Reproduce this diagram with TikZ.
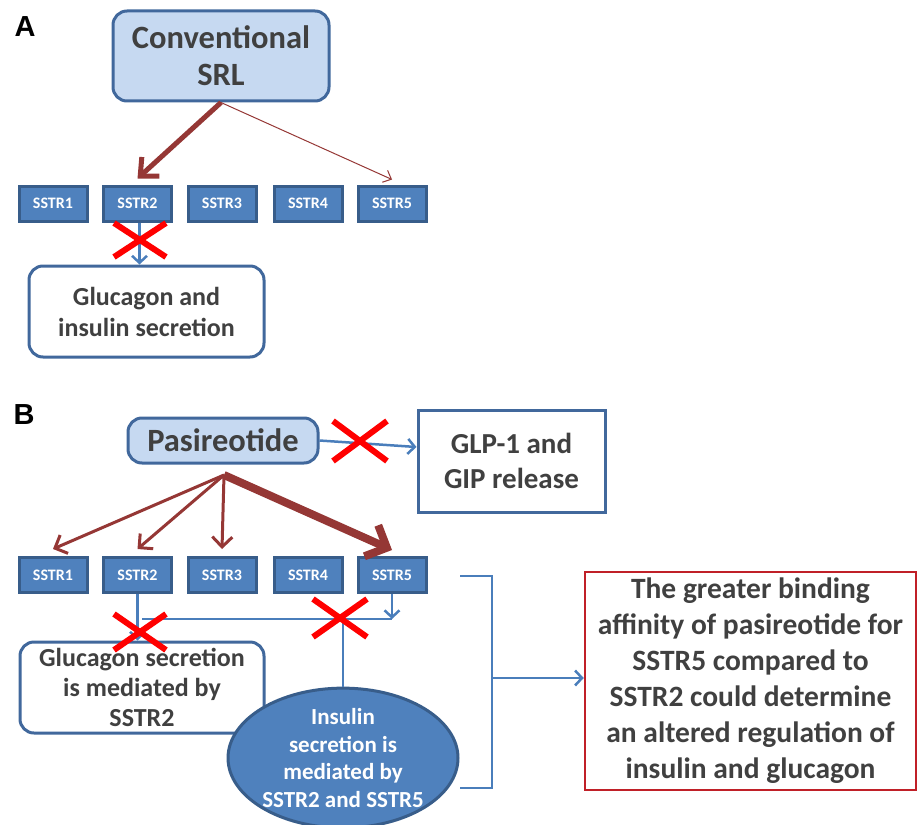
\documentclass[tikz,border=0pt]{standalone}
\usepackage{fontspec}
\setmainfont{Carlito}
\newfontfamily\panelfont{Liberation Sans}
\usetikzlibrary{arrows.meta,shapes.geometric,shapes.misc}
\definecolor{boxline}{RGB}{65,104,156}
\definecolor{lightfill}{RGB}{198,217,241}
\definecolor{sstrfill}{RGB}{79,129,189}
\definecolor{sstrline}{RGB}{56,93,138}
\definecolor{bindred}{RGB}{149,55,53}
\definecolor{linkblue}{RGB}{74,126,187}
\definecolor{txtgrey}{RGB}{64,64,64}
\definecolor{conclred}{RGB}{192,32,40}

\begin{document}
\begin{tikzpicture}[x=1pt,y=-1pt,
  drug/.style={draw=boxline,fill=lightfill,line width=3pt,rounded corners=14pt,align=center,inner sep=0pt,text=txtgrey,font=\bfseries\fontsize{32.5}{37}\selectfont},
  effect/.style={draw=boxline,fill=white,line width=3pt,align=center,inner sep=0pt,text=txtgrey},
  sstr/.style={draw=sstrline,fill=sstrfill,line width=3pt,text=white,minimum width=68pt,minimum height=35pt,inner sep=0pt,font=\bfseries\fontsize{16}{18}\selectfont},
  bind/.style={draw=bindred},
  link/.style={draw=linkblue,line width=2.5pt,-{Straight Barb[length=7pt,width=15pt]}},
  block/.style={cross out,draw=red,line width=6pt,inner sep=0pt}]
\useasboundingbox (0,0) rectangle (920,824);

\node[font=\panelfont\bfseries\fontsize{29}{30}\selectfont] (pa) at (25,27) {A};
\node[drug,minimum width=216pt,minimum height=90pt] (srl) at (221,56) {Conventional\\SRL};
\foreach \i/\x in {1/53,2/137.5,3/222,4/308,5/392}
  \node[sstr] (a\i) at (\x,203.5) {SSTR\i};
\node[effect,rounded corners=14pt,minimum width=235pt,minimum height=91pt,font=\bfseries\fontsize{26}{31}\selectfont] (ga) at (146.5,311.5) {Glucagon and\\insulin secretion};
\draw[bind,line width=5pt,-{Straight Barb[length=14pt,width=26pt]}] (srl.south) -- ([yshift=6pt]a2.north);
\draw[bind,line width=1pt,-{Straight Barb[length=7pt,width=13pt]}] (srl.south) -- ([yshift=5pt]a5.north);
\draw[link] ([xshift=2pt]a2.south) -- ([xshift=2pt]a2.south |- ga.north);
\node[block,minimum width=46pt,minimum height=28pt] (xa) at (140,240) {};

\node[font=\panelfont\bfseries\fontsize{29}{30}\selectfont] (pb) at (24,415) {B};
\node[drug,minimum width=190pt,minimum height=45pt] (pas) at (223,440.5) {Pasireotide};
\node[effect,minimum width=187pt,minimum height=102pt,font=\bfseries\fontsize{29}{35}\selectfont] (glp) at (511.5,461) {GLP-1 and\\GIP release};
\draw[link] (pas.east) -- ([yshift=14pt]glp.west);
\node[block,minimum width=48pt,minimum height=34pt] (xg) at (360,441) {};
\foreach \i/\x in {1/53,2/137.5,3/222,4/308,5/392}
  \node[sstr] (b\i) at (\x,575) {SSTR\i};
\coordinate (fan) at (224,475);
\foreach \i in {1,2,3}
  \draw[bind,line width=3pt,-{Straight Barb[length=10pt,width=20pt]}] (fan) -- ([yshift=7pt]b\i.north);
\draw[bind,line width=8pt,-{Straight Barb[length=17pt,width=34pt]}] (fan) -- ([yshift=6pt]b5.north);
\node[effect,rounded corners=14pt,minimum width=244pt,minimum height=91pt,font=\bfseries\fontsize{26}{30}\selectfont] (gb) at (142,687.5) {Glucagon secretion\\is mediated by\\SSTR2};
\node[ellipse,draw=sstrline,fill=sstrfill,line width=3pt,minimum width=230pt,minimum height=130pt,inner sep=0pt,align=center,text=white,font=\bfseries\fontsize{23}{27.5}\selectfont] (ins) at (343,758) {Insulin\\secretion is\\mediated by\\SSTR2 and SSTR5};
\coordinate (jl) at (142,619);
\coordinate (jr) at (b5.south |- jl);
\draw[link] (b2.south) -- (b2.south |- gb.north);
\draw[link] (b5.south) -- (jr);
\draw[link,-] (jl) -- (jr);
\draw[link,-] (ins.north) -- (ins.north |- jl);
\node[block,minimum width=46pt,minimum height=30pt] (xb) at (140,632) {};
\node[block,minimum width=48pt,minimum height=32pt] (xc) at (340,618) {};

\node[draw=conclred,line width=2.5pt,minimum width=331pt,minimum height=218pt,inner sep=0pt,align=center,text=txtgrey,font=\bfseries\fontsize{29.5}{36}\selectfont] (concl) at (750.5,681) {The greater binding\\affinity of pasireotide for\\SSTR5 compared to\\SSTR2 could determine\\an altered regulation of\\insulin and glucagon};
\coordinate (bt) at (460,576);
\coordinate (bb) at (460,788);
\coordinate (bm) at (492,678);
\draw[link,-] (bt) -- (bt -| bm) -- (bb -| bm) -- (bb);
\draw[link] (bm) -- (concl.west |- bm);
\end{tikzpicture}
\end{document}
